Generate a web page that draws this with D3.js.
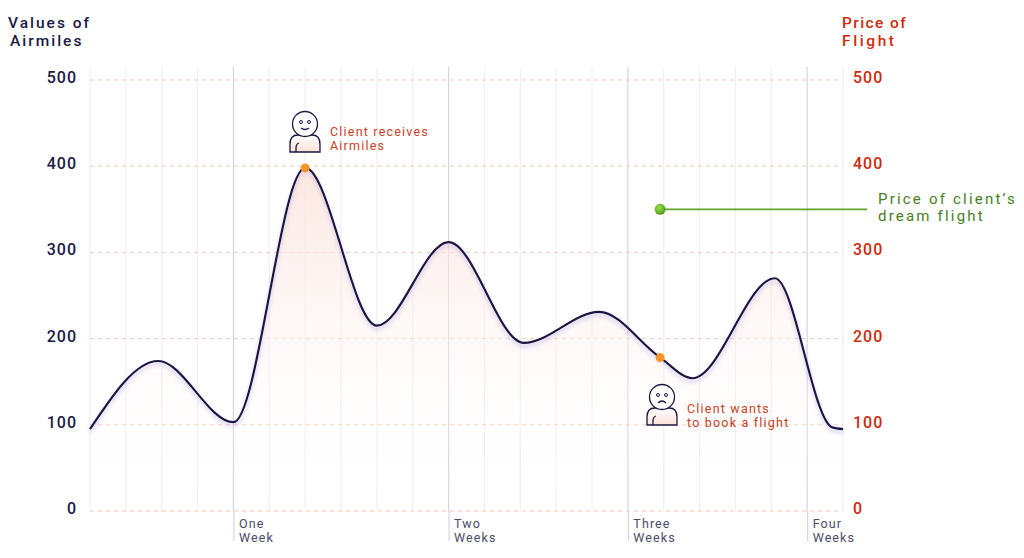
<!DOCTYPE html>
<html>
<head>
<meta charset="utf-8">
<script src="https://cdn.jsdelivr.net/npm/d3@7"></script>
<style>
  body { margin: 0; background: #fff; }
  text { font-family: Roboto, "Open Sans", sans-serif; }
</style>
</head>
<body>
<script>
width = 1024
height = 558

// curve values (day of the month, airmiles)
const days     = [0,  1.9, 4,   6,   8,   10,  12.1, 14.2, 15.9, 16.8, 19.1, 20.7, 21]
const airmiles = [95, 174, 103, 398, 215, 312, 195,  231,  178,  154,  270,  97,   95]

const yTicks = [0, 100, 200, 300, 400, 500]
const gridDays = d3.range(0, 22)
const weekDays = [4, 10, 15, 20]
const weekLabels = [["One", "Week"], ["Two", "Weeks"], ["Three", "Weeks"], ["Four", "Weeks"]]

const receiveDay = 6, receiveMiles = 398
const wantDay = 15.9, wantMiles = 178
const dreamDay = 15.9, dreamPrice = 350

const x = d3.scaleLinear().domain([0, 21]).range([90, 843])
const y = d3.scaleLinear().domain([0, 500]).range([511, 80])

const svg = d3.select("body")
  .append("svg")
    .attr("width", width)
    .attr("height", height)

const defs = svg.append("defs")

const grad = defs.append("linearGradient")
    .attr("id", "areaFill")
    .attr("gradientUnits", "userSpaceOnUse")
    .attr("x1", 0).attr("x2", 0)
    .attr("y1", y(400)).attr("y2", y(0))
grad.append("stop").attr("offset", 0).attr("stop-color", "#fbe1d9").attr("stop-opacity", 0.8)
grad.append("stop").attr("offset", 1).attr("stop-color", "#ffffff").attr("stop-opacity", 0)

const bodyGrad = defs.append("linearGradient")
    .attr("id", "bodyFill")
    .attr("x1", 0).attr("x2", 0).attr("y1", 0).attr("y2", 1)
bodyGrad.append("stop").attr("offset", 0).attr("stop-color", "#ffffff")
bodyGrad.append("stop").attr("offset", 1).attr("stop-color", "#fbe1d8")

const shadow = defs.append("filter")
    .attr("id", "lineShadow")
    .attr("x", "-5%").attr("y", "-10%").attr("width", "110%").attr("height", "130%")
shadow.append("feDropShadow")
    .attr("dx", 0).attr("dy", 3)
    .attr("stdDeviation", 2)
    .attr("flood-color", "#8b7fd6")
    .attr("flood-opacity", 0.45)

const greenGrad = defs.append("radialGradient")
    .attr("id", "greenDot")
    .attr("cx", "40%").attr("cy", "35%").attr("r", "65%")
greenGrad.append("stop").attr("offset", 0).attr("stop-color", "#9be04a")
greenGrad.append("stop").attr("offset", 1).attr("stop-color", "#4f9a1c")

// vertical grid
svg.append("g")
  .selectAll("line")
  .data(gridDays)
  .join("line")
    .attr("x1", d => x(d))
    .attr("x2", d => x(d))
    .attr("y1", 67)
    .attr("y2", y(0))
    .attr("stroke", d => weekDays.includes(d) ? "#d6d4e7" : "#f0eff5")
    .attr("stroke-width", 1.2)

// horizontal dashed grid
svg.append("g")
  .selectAll("line")
  .data(yTicks)
  .join("line")
    .attr("x1", x(0))
    .attr("x2", x(21))
    .attr("y1", d => y(d))
    .attr("y2", d => y(d))
    .attr("stroke", "#f5c6b8")
    .attr("stroke-dasharray", "4,4")
    .attr("stroke-width", 1)

// area + line
const area = d3.area()
  .x((d, i) => x(days[i]))
  .y0(y(0))
  .y1(d => y(d))
  .curve(d3.curveMonotoneX)

const line = d3.line()
  .x((d, i) => x(days[i]))
  .y(d => y(d))
  .curve(d3.curveMonotoneX)

svg.append("path")
  .attr("d", area(airmiles))
  .attr("fill", "url(#areaFill)")

svg.append("path")
  .attr("d", line(airmiles))
  .attr("fill", "none")
  .attr("stroke", "#1b1742")
  .attr("stroke-width", 2.2)
  .attr("filter", "url(#lineShadow)")

// left axis
const leftAxis = svg.append("g")
  .attr("transform", `translate(${x(0)},0)`)
  .call(d3.axisLeft(y).tickValues(yTicks).tickSize(0).tickPadding(13))
leftAxis.select(".domain").remove()
leftAxis.selectAll("text")
  .attr("dy", "0.15em")
  .attr("fill", "#1b1a44")
  .attr("font-size", 16)
  .attr("font-weight", 500)
  .attr("letter-spacing", 1)
  .attr("font-family", "Roboto")

// right axis
const rightAxis = svg.append("g")
  .attr("transform", `translate(${x(21)},0)`)
  .call(d3.axisRight(y).tickValues(yTicks).tickSize(0).tickPadding(10))
rightAxis.select(".domain").remove()
rightAxis.selectAll("text")
  .attr("dy", "0.15em")
  .attr("fill", "#d02a0c")
  .attr("font-size", 16)
  .attr("font-weight", 500)
  .attr("letter-spacing", 1)
  .attr("font-family", "Roboto")

// week axis
const bottomAxis = svg.append("g")
  .attr("transform", `translate(0,${y(0)})`)
  .call(d3.axisBottom(x).tickValues(weekDays).tickSize(30).tickFormat(""))
bottomAxis.select(".domain").remove()
bottomAxis.selectAll("line").attr("stroke", "#d6d4e7").attr("stroke-width", 1.2)
bottomAxis.selectAll(".tick text")
  .attr("text-anchor", "start")
  .attr("x", 5)
  .attr("y", 0)
  .attr("dy", null)
  .attr("fill", "#4b4a68")
  .attr("font-size", 12.5)
  .attr("letter-spacing", 1.1)
  .attr("font-family", "Roboto")
  .each(function(d, i) {
    d3.select(this).selectAll("tspan")
      .data(weekLabels[i])
      .join("tspan")
        .attr("x", 5)
        .attr("y", (t, j) => 17 + j * 14)
        .text(t => t)
  })

// axis titles
const leftTitle = svg.append("text")
  .attr("x", 8)
  .attr("fill", "#1b1a44")
  .attr("font-size", 15.5)
  .attr("font-weight", 500)
  .attr("letter-spacing", 2)
leftTitle.append("tspan").attr("x", 8).attr("y", 28).text("Values of")
leftTitle.append("tspan").attr("x", 10).attr("y", 46).text("Airmiles")

const rightTitle = svg.append("text")
  .attr("fill", "#d02a0c")
  .attr("font-size", 15.5)
  .attr("font-weight", 500)
  .attr("letter-spacing", 1.4)
rightTitle.append("tspan").attr("x", 842).attr("y", 28).text("Price of")
rightTitle.append("tspan").attr("x", 842).attr("y", 46).attr("letter-spacing", 2.6).text("Flight")

// dream flight marker
svg.append("line")
  .attr("x1", x(dreamDay))
  .attr("x2", 867)
  .attr("y1", y(dreamPrice))
  .attr("y2", y(dreamPrice))
  .attr("stroke", "#5fa52a")
  .attr("stroke-width", 1.8)

svg.append("circle")
  .attr("cx", x(dreamDay))
  .attr("cy", y(dreamPrice))
  .attr("r", 5.5)
  .attr("fill", "url(#greenDot)")

const dreamText = svg.append("text")
  .attr("fill", "#467f22")
  .attr("font-size", 15)
  .attr("letter-spacing", 2.2)
dreamText.append("tspan").attr("x", 878).attr("y", y(dreamPrice) - 5).text("Price of client\u2019s")
dreamText.append("tspan").attr("x", 878).attr("y", y(dreamPrice) + 12).text("dream flight")

// person icons
function person(cx, cy, happy) {
  const g = svg.append("g")
    .attr("fill", "none")
    .attr("stroke", "#1b1742")
    .attr("stroke-width", 1.3)
  g.append("path")
    .attr("d", `M${cx - 15},${cy + 28} V${cy + 20} Q${cx - 15},${cy + 11} ${cx - 7},${cy + 11} H${cx + 7} Q${cx + 15},${cy + 11} ${cx + 15},${cy + 20} V${cy + 28} Z`)
    .attr("fill", "url(#bodyFill)")
  g.append("path")
    .attr("d", `M${cx - 9},${cy + 28} V${cy + 24} Q${cx - 9},${cy + 20} ${cx - 6},${cy + 19}`)
  g.append("circle")
    .attr("cx", cx).attr("cy", cy).attr("r", 12.5)
    .attr("fill", "#fff")
  g.append("circle").attr("cx", cx - 4).attr("cy", cy - 2).attr("r", 1.5).attr("stroke-width", 1)
  g.append("circle").attr("cx", cx + 4).attr("cy", cy - 2).attr("r", 1.5).attr("stroke-width", 1)
  if (happy)
    g.append("path").attr("d", `M${cx - 4},${cy + 4} Q${cx},${cy + 7} ${cx + 4},${cy + 4}`)
  else
    g.append("path").attr("d", `M${cx - 4},${cy + 6} Q${cx},${cy + 2} ${cx + 4},${cy + 6}`)
}

person(305, 124, true)
person(662, 397, false)

const noteColor = "#c8401e"
const note1 = svg.append("text")
  .attr("fill", noteColor)
  .attr("font-size", 12.5)
  .attr("letter-spacing", 1.2)
note1.append("tspan").attr("x", 330).attr("y", 135.5).text("Client receives")
note1.append("tspan").attr("x", 330).attr("y", 149.5).text("Airmiles")

const note2 = svg.append("text")
  .attr("fill", noteColor)
  .attr("font-size", 12.5)
  .attr("letter-spacing", 1.2)
note2.append("tspan").attr("x", 687).attr("y", 413).text("Client wants")
note2.append("tspan").attr("x", 687).attr("y", 427).text("to book a flight")

// orange points
svg.append("g")
  .selectAll("circle")
  .data([[receiveDay, receiveMiles], [wantDay, wantMiles]])
  .join("circle")
    .attr("cx", d => x(d[0]))
    .attr("cy", d => y(d[1]))
    .attr("r", 4.5)
    .attr("fill", "#f7952c")
</script>
</body>
</html>
